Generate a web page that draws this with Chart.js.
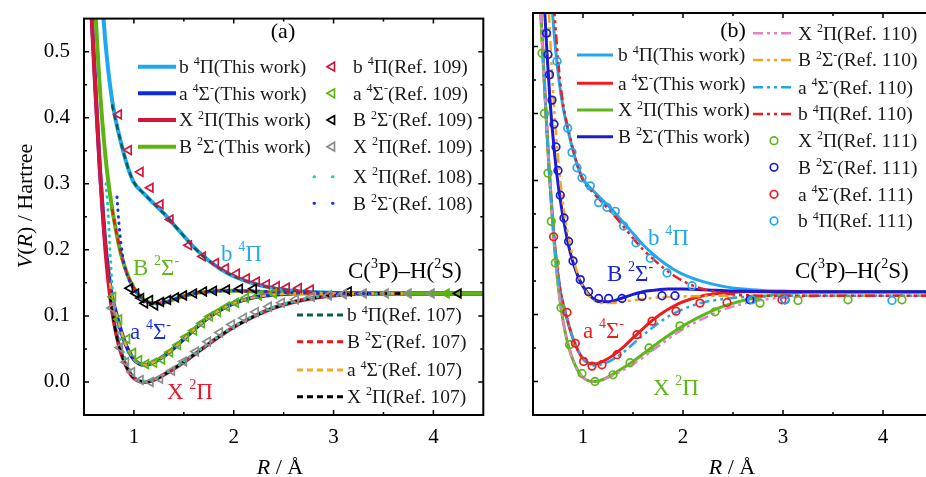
<!DOCTYPE html>
<html>
<head>
<meta charset="utf-8">
<script src="https://cdn.jsdelivr.net/npm/chart.js@4.4.1/dist/chart.umd.min.js"></script>
<style>
  html, body { margin: 0; padding: 0; background: #fff; overflow: hidden; width: 926px; height: 477px; }
  #ca { position: absolute; left: 0; top: 0; }
  #cb { position: absolute; left: 490px; top: 0; }
</style>
</head>
<body>
<canvas id="ca" width="490" height="477"></canvas>
<canvas id="cb" width="450" height="477"></canvas>
<script>
const SERIF = '"Liberation Serif", "Times New Roman", serif';

// ---- This work (both panels), R in Angstrom, V in Hartree
const rX2Pi = [0.575, 0.6, 0.63, 0.66, 0.69, 0.72, 0.75, 0.78, 0.82, 0.86, 0.9, 0.95, 1.0, 1.06, 1.12, 1.2, 1.3, 1.4, 1.5, 1.6, 1.8, 2.0, 2.2, 2.4, 2.6, 2.8, 3.0, 3.3, 3.6, 4.0, 4.5];
const vX2Pi = [0.56, 0.48, 0.40, 0.32, 0.25, 0.19, 0.145, 0.11, 0.075, 0.05, 0.032, 0.016, 0.006, 0.001, 0.0, 0.003, 0.011, 0.02, 0.03, 0.041, 0.063, 0.083, 0.099, 0.112, 0.121, 0.127, 0.131, 0.1335, 0.134, 0.134, 0.134];
const rA4Sig = [0.575, 0.6, 0.63, 0.66, 0.69, 0.72, 0.75, 0.78, 0.82, 0.86, 0.9, 0.95, 1.0, 1.05, 1.1, 1.15, 1.2, 1.3, 1.4, 1.5, 1.6, 1.7, 1.8, 1.9, 2.0, 2.2, 2.4, 2.6, 3.0, 3.5, 4.5];
const vA4Sig = [0.56, 0.49, 0.40, 0.32, 0.255, 0.20, 0.16, 0.13, 0.105, 0.083, 0.064, 0.046, 0.034, 0.028, 0.026, 0.027, 0.03, 0.039, 0.051, 0.065, 0.079, 0.092, 0.103, 0.112, 0.119, 0.128, 0.132, 0.134, 0.1345, 0.134, 0.134];
const rB2Sig = [0.615, 0.64, 0.67, 0.7, 0.73, 0.76, 0.79, 0.82, 0.86, 0.9, 0.95, 1.0, 1.06, 1.12, 1.2, 1.3, 1.4, 1.5, 1.6, 1.7, 1.85, 2.0, 2.2, 2.5, 3.0, 3.5, 4.5];
const vB2Sig = [0.56, 0.49, 0.42, 0.365, 0.32, 0.285, 0.255, 0.23, 0.2, 0.178, 0.157, 0.142, 0.13, 0.122, 0.119, 0.12, 0.125, 0.13, 0.134, 0.136, 0.138, 0.138, 0.137, 0.135, 0.134, 0.134, 0.134];
const rB4Pi = [0.69, 0.72, 0.76, 0.8, 0.85, 0.9, 0.95, 1.0, 1.1, 1.2, 1.3, 1.4, 1.5, 1.6, 1.7, 1.8, 1.9, 2.0, 2.2, 2.4, 2.6, 2.8, 3.0, 3.3, 3.6, 4.5];
const vB4Pi = [0.56, 0.505, 0.45, 0.41, 0.375, 0.345, 0.32, 0.302, 0.285, 0.27, 0.255, 0.238, 0.221, 0.204, 0.19, 0.178, 0.168, 0.16, 0.149, 0.142, 0.138, 0.136, 0.135, 0.134, 0.134, 0.134];

// ---- panel (a): Ref. 107 (dashed)
const r107b4Pi = [0.78, 0.85, 0.9, 0.95, 1.0, 1.1, 1.2, 1.3, 1.4, 1.5, 1.6, 1.7, 1.8, 1.9, 2.0, 2.2, 2.4, 2.6, 2.8, 3.0, 3.4, 3.7];
const v107b4Pi = [0.42, 0.375, 0.345, 0.32, 0.302, 0.285, 0.27, 0.255, 0.238, 0.221, 0.204, 0.19, 0.178, 0.168, 0.16, 0.149, 0.142, 0.138, 0.136, 0.135, 0.134, 0.134];
const r107B2Sig = [0.78, 0.82, 0.86, 0.9, 0.95, 1.0, 1.06, 1.12, 1.2, 1.3, 1.4, 1.5, 1.6, 1.7, 1.85, 2.0, 2.2, 2.5, 3.0, 3.7];
const v107B2Sig = [0.262, 0.23, 0.2, 0.178, 0.157, 0.142, 0.13, 0.122, 0.119, 0.12, 0.125, 0.13, 0.134, 0.136, 0.138, 0.138, 0.137, 0.135, 0.134, 0.134];
const r107a4Sig = [0.76, 0.78, 0.82, 0.86, 0.9, 0.95, 1.0, 1.05, 1.1, 1.15, 1.2, 1.3, 1.4, 1.5, 1.6, 1.7, 1.8, 1.9, 2.0, 2.2, 2.4, 2.6, 3.0, 3.7];
const v107a4Sig = [0.15, 0.13, 0.105, 0.083, 0.064, 0.046, 0.034, 0.028, 0.026, 0.027, 0.03, 0.039, 0.051, 0.065, 0.079, 0.092, 0.103, 0.112, 0.119, 0.128, 0.132, 0.134, 0.134, 0.134];
const r107X2Pi = [0.76, 0.78, 0.82, 0.86, 0.9, 0.95, 1.0, 1.06, 1.12, 1.2, 1.3, 1.4, 1.5, 1.6, 1.8, 2.0, 2.2, 2.4, 2.6, 2.8, 3.0, 3.3, 3.7];
const v107X2Pi = [0.13, 0.11, 0.075, 0.05, 0.032, 0.016, 0.006, 0.001, 0.0, 0.003, 0.011, 0.02, 0.03, 0.041, 0.063, 0.083, 0.099, 0.112, 0.121, 0.127, 0.131, 0.1335, 0.134];

// ---- panel (a): Ref. 108 (dotted)
const r108X2Pi = [0.72, 0.74, 0.76, 0.78, 0.8, 0.84, 0.88, 0.92, 0.96, 1.0, 1.1, 1.2, 1.4, 1.6, 1.8, 2.0, 2.2, 2.4, 2.6, 2.8, 3.0, 3.3, 3.6];
const v108X2Pi = [0.3, 0.26, 0.2, 0.15, 0.115, 0.08, 0.052, 0.032, 0.018, 0.009, 0.001, 0.004, 0.021, 0.042, 0.064, 0.084, 0.1, 0.113, 0.122, 0.128, 0.131, 0.133, 0.134];
const r108B2Sig = [0.83, 0.85, 0.87, 0.9, 0.95, 1.0, 1.06, 1.12, 1.2, 1.3, 1.4, 1.5, 1.6, 1.8, 2.0, 2.3, 2.6, 3.0, 3.4];
const v108B2Sig = [0.28, 0.24, 0.21, 0.18, 0.155, 0.14, 0.129, 0.121, 0.118, 0.12, 0.125, 0.13, 0.134, 0.137, 0.138, 0.137, 0.135, 0.134, 0.134];

// ---- panel (a): Ref. 109 (triangles)
const r109b4Pi = [0.848, 0.948, 1.065, 1.165, 1.265, 1.365, 1.55, 1.69, 1.82, 1.92, 2.03, 2.13, 2.23, 2.33, 2.43, 2.53, 2.65, 2.77];
const v109b4Pi = [0.405, 0.351, 0.318, 0.294, 0.269, 0.246, 0.207, 0.19, 0.18, 0.172, 0.164, 0.157, 0.152, 0.148, 0.145, 0.143, 0.142, 0.14];
const r109a4Sig = [0.79, 0.85, 0.93, 0.99, 1.05, 1.12, 1.2, 1.28, 1.36, 1.44, 1.52, 1.6, 1.68, 1.76, 1.84, 1.93, 2.02, 2.12, 2.25, 2.4, 4.13];
const v109a4Sig = [0.129, 0.095, 0.065, 0.044, 0.033, 0.027, 0.029, 0.034, 0.045, 0.056, 0.068, 0.078, 0.089, 0.099, 0.106, 0.114, 0.12, 0.127, 0.131, 0.134, 0.134];
const r109B2Sig = [0.96, 1.02, 1.07, 1.11, 1.16, 1.21, 1.27, 1.34, 1.42, 1.5, 1.6, 1.7, 1.8, 1.93, 2.06, 2.2, 3.15, 4.25];
const v109B2Sig = [0.142, 0.134, 0.127, 0.119, 0.124, 0.116, 0.121, 0.124, 0.128, 0.131, 0.134, 0.137, 0.138, 0.14, 0.141, 0.141, 0.137, 0.134];
const r109X2Pi = [0.78, 0.86, 0.92, 0.98, 1.065, 1.165, 1.26, 1.38, 1.5, 1.62, 1.74, 1.86, 1.98, 2.1, 2.22, 2.35, 2.48, 2.62, 2.78, 2.95, 3.1, 3.3, 3.52, 3.75, 3.98];
const v109X2Pi = [0.112, 0.052, 0.03, 0.015, 0.003, 0.0, 0.005, 0.017, 0.031, 0.046, 0.061, 0.075, 0.087, 0.097, 0.106, 0.114, 0.12, 0.125, 0.129, 0.131, 0.133, 0.134, 0.134, 0.134, 0.134];

// ---- panel (b): Ref. 110 (dash-dot)
const r110X2Pi = [0.58, 0.6, 0.63, 0.66, 0.69, 0.72, 0.75, 0.78, 0.82, 0.86, 0.9, 0.95, 1.0, 1.06, 1.12, 1.2, 1.3, 1.4, 1.5, 1.6, 1.8, 2.0, 2.2, 2.4, 2.6, 2.8, 3.0, 3.5, 4.5];
const v110X2Pi = [0.55, 0.48, 0.40, 0.32, 0.25, 0.19, 0.145, 0.11, 0.075, 0.05, 0.031, 0.015, 0.006, 0.001, 0.0, 0.003, 0.009, 0.017, 0.026, 0.036, 0.058, 0.078, 0.094, 0.107, 0.116, 0.122, 0.125, 0.128, 0.128];
const r110B2Sig = [0.66, 0.69, 0.72, 0.75, 0.78, 0.81, 0.85, 0.9, 0.95, 1.0, 1.05, 1.1, 1.2, 1.3, 1.4, 1.6, 1.8, 2.0, 2.5, 3.0, 4.5];
const v110B2Sig = [0.55, 0.46, 0.39, 0.335, 0.29, 0.255, 0.22, 0.185, 0.16, 0.142, 0.13, 0.122, 0.117, 0.117, 0.119, 0.123, 0.126, 0.127, 0.128, 0.128, 0.128];
const r110a4Sig = [0.6, 0.63, 0.66, 0.69, 0.72, 0.75, 0.78, 0.82, 0.86, 0.9, 0.95, 1.0, 1.05, 1.1, 1.15, 1.2, 1.3, 1.4, 1.5, 1.6, 1.7, 1.8, 1.9, 2.0, 2.2, 2.4, 2.6, 3.0, 4.5];
const v110a4Sig = [0.49, 0.4, 0.32, 0.255, 0.2, 0.16, 0.13, 0.105, 0.083, 0.064, 0.046, 0.034, 0.027, 0.024, 0.024, 0.026, 0.033, 0.043, 0.056, 0.069, 0.081, 0.092, 0.101, 0.108, 0.118, 0.123, 0.126, 0.128, 0.128];
const r110b4Pi = [0.71, 0.74, 0.77, 0.8, 0.85, 0.9, 0.95, 1.0, 1.1, 1.2, 1.3, 1.4, 1.5, 1.6, 1.7, 1.8, 1.9, 2.0, 2.1, 2.2, 2.4, 2.6, 3.0, 3.5, 4.5];
const v110b4Pi = [0.56, 0.5, 0.45, 0.415, 0.378, 0.347, 0.32, 0.3, 0.282, 0.266, 0.25, 0.232, 0.214, 0.197, 0.183, 0.17, 0.159, 0.15, 0.143, 0.138, 0.132, 0.129, 0.128, 0.128, 0.128];

// ---- panel (b): Ref. 111 (circles)
const r111X2Pi = [0.59, 0.614, 0.65, 0.683, 0.723, 0.78, 0.866, 0.99, 1.12, 1.3, 1.47, 1.66, 1.97, 2.32, 2.77, 3.15, 3.65, 4.19];
const v111X2Pi = [0.49, 0.40, 0.311, 0.239, 0.177, 0.11, 0.055, 0.012, 0.0, 0.01, 0.028, 0.05, 0.083, 0.104, 0.117, 0.121, 0.122, 0.122];
const r111B2Sig = [0.635, 0.65, 0.665, 0.69, 0.71, 0.73, 0.75, 0.773, 0.81, 0.856, 0.9, 0.973, 1.056, 1.156, 1.256, 1.39, 1.59, 1.79, 1.92, 2.67, 3.02];
const v111B2Sig = [0.52, 0.488, 0.458, 0.42, 0.384, 0.35, 0.315, 0.278, 0.244, 0.209, 0.18, 0.152, 0.134, 0.124, 0.124, 0.124, 0.127, 0.128, 0.128, 0.122, 0.122];
const r111a4Sig = [0.706, 0.84, 0.923, 1.006, 1.09, 1.19, 1.34, 1.54, 1.69, 1.93, 2.17, 2.44, 2.99];
const v111a4Sig = [0.216, 0.103, 0.057, 0.03, 0.023, 0.025, 0.04, 0.07, 0.09, 0.105, 0.117, 0.118, 0.122];
const r111b4Pi = [0.74, 0.847, 0.89, 0.94, 0.99, 1.073, 1.156, 1.24, 1.323, 1.406, 1.53, 1.673, 1.84, 2.09, 2.69, 3.02, 4.09];
const v111b4Pi = [0.478, 0.378, 0.342, 0.319, 0.304, 0.292, 0.267, 0.26, 0.254, 0.232, 0.207, 0.184, 0.162, 0.143, 0.122, 0.122, 0.121];

// ---- axes
const xTicks = [1, 2, 3, 4];
const yTicks = [0.0, 0.1, 0.2, 0.3, 0.4, 0.5];

function pts(R, V) { return R.map((r, i) => ({ x: r, y: V[i] })); }

function line(R, V, color, width, dash, cap) {
  return {
    data: pts(R, V), showLine: true, borderColor: color, borderWidth: width,
    borderDash: dash || [], borderCapStyle: cap || 'butt', pointRadius: 0,
    cubicInterpolationMode: 'monotone', fill: false
  };
}

function marks(R, V, color, style) {
  return {
    data: pts(R, V), showLine: false, pointStyle: style,
    pointRotation: style === 'triangle' ? -90 : 0,
    pointRadius: style === 'triangle' ? 5 : 3.8, pointBorderWidth: 1.7,
    pointBorderColor: color, pointBackgroundColor: 'rgba(0,0,0,0)'
  };
}

// draws text with ^x superscript and ~x italic markers
function rich(ctx, s, x, y, size, color, align) {
  const segs = [];
  for (let i = 0; i < s.length; i++) {
    const c = s[i];
    if (c === '^') segs.push({ t: s[++i], sup: true });
    else if (c === '~') segs.push({ t: s[++i], it: true });
    else segs.push({ t: c });
  }
  const font = g => (g.it ? 'italic ' : '') + (g.sup ? Math.round(size * 0.62) : size) + 'px ' + SERIF;
  let w = 0;
  segs.forEach(g => { ctx.font = font(g); g.w = ctx.measureText(g.t).width; w += g.w; });
  let cx = align === 'center' ? x - w / 2 : x;
  const base = y + size * 0.33;
  ctx.fillStyle = color;
  ctx.textBaseline = 'alphabetic';
  ctx.textAlign = 'left';
  segs.forEach(g => {
    ctx.font = font(g);
    ctx.fillText(g.t, cx, g.sup ? base - size * 0.4 : base);
    cx += g.w;
  });
}

function legendItem(ctx, it) {
  ctx.save();
  if (it.kind === 'line') {
    ctx.strokeStyle = it.color; ctx.lineWidth = it.w;
    ctx.setLineDash(it.dash || []); ctx.lineCap = it.cap || 'butt';
    ctx.beginPath(); ctx.moveTo(it.x1, it.y); ctx.lineTo(it.x2, it.y); ctx.stroke();
  } else if (it.kind === 'tri') {
    ctx.strokeStyle = it.color; ctx.lineWidth = 1.7;
    const r = 5;
    ctx.beginPath();
    ctx.moveTo(it.x1 - r, it.y);
    ctx.lineTo(it.x1 + r * 0.5, it.y - r * 0.87);
    ctx.lineTo(it.x1 + r * 0.5, it.y + r * 0.87);
    ctx.closePath(); ctx.stroke();
  } else if (it.kind === 'circ') {
    ctx.strokeStyle = it.color; ctx.lineWidth = 1.7;
    ctx.beginPath(); ctx.arc(it.x1, it.y, 3.8, 0, Math.PI * 2); ctx.stroke();
  }
  ctx.restore();
  rich(ctx, it.text, it.tx, it.y, 19.5, '#1a1a1a', 'left');
}

const framePlugin = {
  id: 'frame',
  afterDatasetsDraw(chart, args, opts) {
    const { ctx, chartArea: a, scales: { x, y } } = chart;
    ctx.save();
    ctx.strokeStyle = '#000';
    ctx.lineWidth = 1.5;
    ctx.beginPath();
    for (let v = 1; v < 4.6; v += 0.5) {
      const px = x.getPixelForValue(v);
      if (px >= a.right - 1) continue;
      const len = Math.abs(v - Math.round(v)) < 1e-6 ? 5 : 3;
      ctx.moveTo(px, a.bottom); ctx.lineTo(px, a.bottom - len);
      ctx.moveTo(px, a.top); ctx.lineTo(px, a.top + len);
    }
    for (let k = 1; k <= 11; k++) {
      const v = -0.05 + 0.05 * k;
      const py = y.getPixelForValue(v);
      const len = k % 2 === 1 ? 5 : 3;
      ctx.moveTo(a.left, py); ctx.lineTo(a.left + len, py);
      ctx.moveTo(a.right, py); ctx.lineTo(a.right - len, py);
    }
    ctx.stroke();
    ctx.lineWidth = 2;
    ctx.strokeRect(a.left, a.top, a.right - a.left, a.bottom - a.top);
    ctx.restore();
    ctx.save();
    (opts.labels || []).forEach(l => rich(ctx, l.text, l.x, l.y, l.size, l.color, l.align || 'left'));
    (opts.legend || []).forEach(it => legendItem(ctx, it));
    if (opts.yTitle) {
      ctx.save();
      ctx.translate(opts.yTitle.x, opts.yTitle.y);
      ctx.rotate(-Math.PI / 2);
      rich(ctx, '~V(~R) / Hartree', 0, 0, 22, '#000', 'center');
      ctx.restore();
    }
    rich(ctx, '~R / Å', opts.xTitle.x, opts.xTitle.y, 22, '#000', 'center');
    ctx.restore();
  }
};

function makeOptions(yWidth, padRight, showY, frameOpts) {
  return {
    responsive: false, animation: false, events: [],
    layout: { padding: { top: 13, right: padRight, left: 0, bottom: 0 } },
    plugins: { legend: { display: false }, tooltip: { enabled: false }, frame: frameOpts },
    scales: {
      x: {
        type: 'linear', min: 0.5, max: 4.5,
        grid: { display: false }, border: { display: false },
        afterBuildTicks: s => { s.ticks = xTicks.map(v => ({ value: v })); },
        afterFit: s => { s.height = 62; },
        ticks: { autoSkip: false, maxRotation: 0, padding: 2, color: '#000',
                 font: { family: SERIF, size: 21 }, callback: v => String(v) }
      },
      y: {
        type: 'linear', min: -0.05, max: 0.55,
        grid: { display: false }, border: { display: false },
        afterBuildTicks: s => { s.ticks = yTicks.map(v => ({ value: v })); },
        afterFit: s => { s.width = yWidth; },
        ticks: { display: showY, padding: 6, color: '#000',
                 font: { family: SERIF, size: 21 }, callback: v => v.toFixed(1) }
      }
    }
  };
}

function withOrder(ds) { ds.forEach((d, i) => { d.order = ds.length - i; }); return ds; }

// ---------------- panel (a)
const cA = { lblue: '#1fa8f0', blue: '#0b2ae6', crimson: '#d4163c', green: '#5db410' };
const dsA = withOrder([
  line(rB4Pi, vB4Pi, cA.lblue, 4),
  line(rA4Sig, vA4Sig, cA.blue, 4),
  line(rX2Pi, vX2Pi, cA.crimson, 4),
  line(rB2Sig, vB2Sig, cA.green, 4),
  line(r107b4Pi, v107b4Pi, '#0d5c4e', 2.5, [6, 4]),
  line(r107B2Sig, v107B2Sig, '#f01414', 2.5, [6, 4]),
  line(r107a4Sig, v107a4Sig, '#f6a820', 2.5, [6, 4]),
  line(r107X2Pi, v107X2Pi, '#000000', 2.5, [6, 4]),
  line(r108X2Pi, v108X2Pi, '#22c9a5', 3, [0.5, 6], 'round'),
  line(r108B2Sig, v108B2Sig, '#1232f0', 3, [0.5, 6], 'round'),
  marks(r109b4Pi, v109b4Pi, cA.crimson, 'triangle'),
  marks(r109a4Sig, v109a4Sig, cA.green, 'triangle'),
  marks(r109B2Sig, v109B2Sig, '#000000', 'triangle'),
  marks(r109X2Pi, v109X2Pi, '#8c8c8c', 'triangle')
]);

const frameA = {
  yTitle: { x: 25, y: 206 },
  xTitle: { x: 280, y: 467 },
  labels: [
    { text: '(a)', x: 283, y: 31, size: 22, color: '#000', align: 'center' },
    { text: 'b ^4Π', x: 221, y: 253, size: 23, color: '#2aa8ee' },
    { text: 'B ^2Σ^-', x: 133, y: 267, size: 23, color: '#62b520' },
    { text: 'a ^4Σ^-', x: 130, y: 331, size: 23, color: '#1a30e0' },
    { text: 'X ^2Π', x: 167, y: 391, size: 23, color: '#e8182e' },
    { text: 'C(^3P)–H(^2S)', x: 348, y: 270, size: 23, color: '#000' }
  ],
  legend: [
    { kind: 'line', color: cA.lblue, w: 4, x1: 138, x2: 176, y: 66.7, tx: 179, text: 'b ^4Π(This work)' },
    { kind: 'line', color: cA.blue, w: 4, x1: 138, x2: 176, y: 93.3, tx: 179, text: 'a ^4Σ^-(This work)' },
    { kind: 'line', color: cA.crimson, w: 4, x1: 138, x2: 176, y: 120, tx: 179, text: 'X ^2Π(This work)' },
    { kind: 'line', color: cA.green, w: 4, x1: 138, x2: 176, y: 146.7, tx: 179, text: 'B ^2Σ^-(This work)' },
    { kind: 'tri', color: cA.crimson, x1: 332, y: 66.7, tx: 353, text: 'b ^4Π(Ref. 109)' },
    { kind: 'tri', color: cA.green, x1: 332, y: 93.3, tx: 353, text: 'a ^4Σ^-(Ref. 109)' },
    { kind: 'tri', color: '#000', x1: 332, y: 120, tx: 353, text: 'B ^2Σ^-(Ref. 109)' },
    { kind: 'tri', color: '#8c8c8c', x1: 332, y: 146.7, tx: 353, text: 'X ^2Π(Ref. 109)' },
    { kind: 'line', color: '#22c9a5', w: 3, dash: [0.5, 18], cap: 'round', x1: 314, x2: 336, y: 176.7, tx: 353, text: 'X ^2Π(Ref. 108)' },
    { kind: 'line', color: '#1232f0', w: 3, dash: [0.5, 18], cap: 'round', x1: 314, x2: 336, y: 203.3, tx: 353, text: 'B ^2Σ^-(Ref. 108)' },
    { kind: 'line', color: '#0d5c4e', w: 3, dash: [6, 4], x1: 297, x2: 344, y: 315, tx: 347, text: 'b ^4Π(Ref. 107)' },
    { kind: 'line', color: '#f01414', w: 3, dash: [6, 4], x1: 297, x2: 344, y: 341.7, tx: 347, text: 'B ^2Σ^-(Ref. 107)' },
    { kind: 'line', color: '#f6a820', w: 3, dash: [6, 4], x1: 297, x2: 344, y: 370, tx: 347, text: 'a ^4Σ^-(Ref. 107)' },
    { kind: 'line', color: '#000', w: 3, dash: [6, 4], x1: 297, x2: 344, y: 396.7, tx: 347, text: 'X ^2Π(Ref. 107)' }
  ]
};

new Chart(document.getElementById('ca'), {
  type: 'scatter',
  data: { datasets: dsA },
  options: makeOptions(84, 6, true, frameA),
  plugins: [framePlugin]
});

// ---------------- panel (b)
const cB = { lblue: '#22a6f0', red: '#ee1c1c', green: '#5cb81a', blue: '#1a1ad8', pink: '#e880c8', orange: '#f2a818' };
const dd = [10, 4, 3, 4, 3, 4];
const dsB = withOrder([
  line(rB4Pi, vB4Pi, cB.lblue, 3),
  line(rA4Sig, vA4Sig, cB.red, 3),
  line(rX2Pi, vX2Pi, cB.green, 3),
  line(rB2Sig, vB2Sig, cB.blue, 3),
  line(r110X2Pi, v110X2Pi, cB.pink, 2.5, dd),
  line(r110B2Sig, v110B2Sig, cB.orange, 2.5, dd),
  line(r110a4Sig, v110a4Sig, cB.lblue, 2.5, dd),
  line(r110b4Pi, v110b4Pi, cB.red, 2.5, dd),
  marks(r111X2Pi, v111X2Pi, cB.green, 'circle'),
  marks(r111B2Sig, v111B2Sig, cB.blue, 'circle'),
  marks(r111a4Sig, v111a4Sig, cB.red, 'circle'),
  marks(r111b4Pi, v111b4Pi, cB.lblue, 'circle')
]);

const OX = 490;
const frameB = {
  xTitle: { x: 732 - OX, y: 467 },
  labels: [
    { text: '(b)', x: 733 - OX, y: 30, size: 22, color: '#000', align: 'center' },
    { text: 'b ^4Π', x: 648 - OX, y: 237, size: 23, color: cB.lblue },
    { text: 'B ^2Σ^-', x: 607 - OX, y: 273, size: 23, color: '#1a22d8' },
    { text: 'a ^4Σ^-', x: 583 - OX, y: 330, size: 23, color: cB.red },
    { text: 'X ^2Π', x: 653 - OX, y: 387, size: 23, color: cB.green },
    { text: 'C(^3P)–H(^2S)', x: 795 - OX, y: 270, size: 23, color: '#000' }
  ],
  legend: [
    { kind: 'line', color: cB.lblue, w: 3, x1: 577 - OX, x2: 613 - OX, y: 55, tx: 618 - OX, text: 'b ^4Π(This work)' },
    { kind: 'line', color: cB.red, w: 3, x1: 577 - OX, x2: 613 - OX, y: 83.3, tx: 618 - OX, text: 'a ^4Σ^-(This work)' },
    { kind: 'line', color: cB.green, w: 3, x1: 577 - OX, x2: 613 - OX, y: 110, tx: 618 - OX, text: 'X ^2Π(This work)' },
    { kind: 'line', color: cB.blue, w: 3, x1: 577 - OX, x2: 613 - OX, y: 136.7, tx: 618 - OX, text: 'B ^2Σ^-(This work)' },
    { kind: 'line', color: cB.pink, w: 2.5, dash: dd, x1: 753 - OX, x2: 795 - OX, y: 33.3, tx: 798 - OX, text: 'X ^2Π(Ref. 110)' },
    { kind: 'line', color: cB.orange, w: 2.5, dash: dd, x1: 753 - OX, x2: 795 - OX, y: 60, tx: 798 - OX, text: 'B ^2Σ^-(Ref. 110)' },
    { kind: 'line', color: cB.lblue, w: 2.5, dash: dd, x1: 753 - OX, x2: 795 - OX, y: 87.3, tx: 798 - OX, text: 'a ^4Σ^-(Ref. 110)' },
    { kind: 'line', color: cB.red, w: 2.5, dash: dd, x1: 753 - OX, x2: 795 - OX, y: 114, tx: 798 - OX, text: 'b ^4Π(Ref. 110)' },
    { kind: 'circ', color: cB.green, x1: 774 - OX, y: 140.7, tx: 798 - OX, text: 'X ^2Π(Ref. 111)' },
    { kind: 'circ', color: cB.blue, x1: 774 - OX, y: 167.3, tx: 798 - OX, text: 'B ^2Σ^-(Ref. 111)' },
    { kind: 'circ', color: cB.red, x1: 774 - OX, y: 194.3, tx: 798 - OX, text: 'a ^4Σ^-(Ref. 111)' },
    { kind: 'circ', color: cB.lblue, x1: 774 - OX, y: 221, tx: 798 - OX, text: 'b ^4Π(Ref. 111)' }
  ]
};

new Chart(document.getElementById('cb'), {
  type: 'scatter',
  data: { datasets: dsB },
  options: makeOptions(43, 7, false, frameB),
  plugins: [framePlugin]
});
</script>
</body>
</html>
